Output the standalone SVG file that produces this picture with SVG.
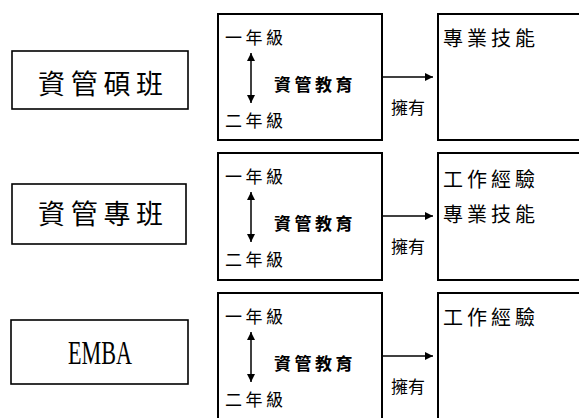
<svg xmlns="http://www.w3.org/2000/svg" width="579" height="418" viewBox="0 0 579 418">
<style>
.box{fill:#fff;stroke:#000;stroke-width:2}
.lbox{fill:#fff;stroke:#000;stroke-width:1.6}
.t{font-family:"Noto Sans CJK TC","Noto Sans CJK SC",sans-serif;fill:#000}
.s{font-size:17px;letter-spacing:3.5px}
.b{font-weight:bold}
.m{font-size:20px;letter-spacing:4px}
.l{font-size:27px;letter-spacing:5.7px}
.e{font-family:"Liberation Serif",serif;font-size:34px;fill:#000}
.ln{stroke:#000;stroke-width:1.5;fill:none}
</style>
<defs>
<marker id="ah" viewBox="0 0 10 10" refX="10" refY="5" markerWidth="8" markerHeight="8" markerUnits="userSpaceOnUse" orient="auto-start-reverse">
<path d="M0,0 L10,5 L0,10 z" fill="#000"/>
</marker>
</defs>
<g id="prog1">
<rect class="lbox" x="12" y="51" width="176" height="58"/>
<text class="t l" x="38" y="93.5">資管碩班</text>
</g>
<g id="edu1">
<rect class="box" x="218" y="14" width="164" height="126"/>
<text class="t s" x="225" y="44">一年級</text>
<text class="t s" x="225" y="126.5">二年級</text>
<text class="t s b" x="274" y="90.5">資管教育</text>
</g>
<g id="out1">
<rect class="box" x="438" y="14" width="150" height="126"/>
<text class="t m" x="443" y="46">專業技能</text>
</g>
<g id="prog2">
<rect class="lbox" x="12" y="184" width="174" height="60"/>
<text class="t l" x="38" y="224">資管專班</text>
</g>
<g id="edu2">
<rect class="box" x="218" y="153" width="164" height="127"/>
<text class="t s" x="225" y="183">一年級</text>
<text class="t s" x="225" y="265.5">二年級</text>
<text class="t s b" x="274" y="229.5">資管教育</text>
</g>
<g id="out2">
<rect class="box" x="438" y="153" width="150" height="127"/>
<text class="t m" x="443" y="187">工作經驗</text>
<text class="t m" x="443" y="222">專業技能</text>
</g>
<g id="prog3">
<rect class="lbox" x="11" y="320" width="177" height="64"/>
<text class="e" x="100" y="364" text-anchor="middle" textLength="64" lengthAdjust="spacingAndGlyphs">EMBA</text>
</g>
<g id="edu3">
<rect class="box" x="218" y="293" width="164" height="140"/>
<text class="t s" x="225" y="323">一年級</text>
<text class="t s" x="225" y="405.5">二年級</text>
<text class="t s b" x="274" y="369.5">資管教育</text>
</g>
<g id="out3">
<rect class="box" x="438" y="293" width="150" height="140"/>
<text class="t m" x="443" y="325">工作經驗</text>
</g>
<g id="connectors">
<line class="ln" x1="251" y1="53" x2="251" y2="103" marker-start="url(#ah)" marker-end="url(#ah)"/>
<line class="ln" x1="251" y1="192" x2="251" y2="242" marker-start="url(#ah)" marker-end="url(#ah)"/>
<line class="ln" x1="251" y1="332" x2="251" y2="382" marker-start="url(#ah)" marker-end="url(#ah)"/>
<line class="ln" x1="383" y1="77" x2="433" y2="77" marker-end="url(#ah)"/>
<line class="ln" x1="383" y1="216" x2="433" y2="216" marker-end="url(#ah)"/>
<line class="ln" x1="383" y1="356" x2="433" y2="356" marker-end="url(#ah)"/>
<text class="t" x="391" y="114" font-size="17">擁有</text>
<text class="t" x="391" y="253" font-size="17">擁有</text>
<text class="t" x="391" y="393" font-size="17">擁有</text>
</g>
</svg>
